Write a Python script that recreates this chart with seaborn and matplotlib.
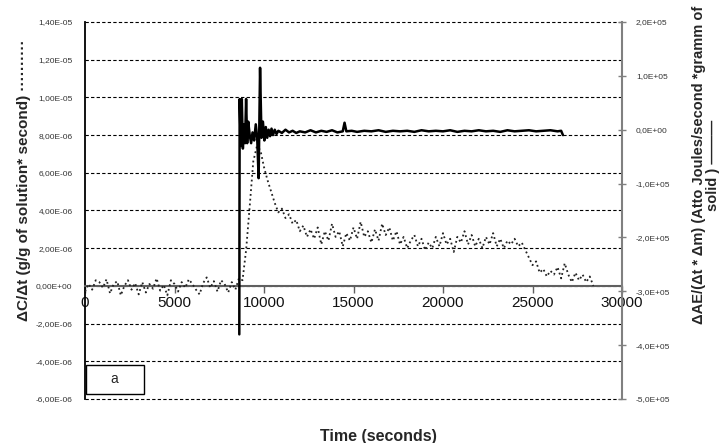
import numpy as np
import pandas as pd
import matplotlib
matplotlib.use("Agg")
import matplotlib.pyplot as plt
from matplotlib.patches import Rectangle
import seaborn as sns

# ---------------- data ----------------
# dotted series: dC/dt (units of 1e-6 g/g*s), every 200 s
conc_time = [
    0, 200, 400, 600, 800, 1000, 1200, 1400, 1600, 1800,
    2000, 2200, 2400, 2600, 2800, 3000, 3200, 3400, 3600, 3800,
    4000, 4200, 4400, 4600, 4800, 5000, 5200, 5400, 5600, 5800,
    6000, 6200, 6400, 6600, 6800, 7000, 7200, 7400, 7600, 7800,
    8000, 8200, 8400, 8600, 8800, 9000, 9200, 9400, 9600, 9800,
    10000, 10200, 10400, 10600, 10800, 11000, 11200, 11400, 11600, 11800,
    12000, 12200, 12400, 12600, 12800, 13000, 13200, 13400, 13600, 13800,
    14000, 14200, 14400, 14600, 14800, 15000, 15200, 15400, 15600, 15800,
    16000, 16200, 16400, 16600, 16800, 17000, 17200, 17400, 17600, 17800,
    18000, 18200, 18400, 18600, 18800, 19000, 19200, 19400, 19600, 19800,
    20000, 20200, 20400, 20600, 20800, 21000, 21200, 21400, 21600, 21800,
    22000, 22200, 22400, 22600, 22800, 23000, 23200, 23400, 23600, 23800,
    24000, 24200, 24400, 24600, 24800, 25000, 25200, 25400, 25600, 25800,
    26000, 26200, 26400, 26600, 26800, 27000, 27200, 27400, 27600, 27800,
    28000, 28200, 28400,
]
conc_rate_e6 = [
    -0.3, 0.1, -0.2, 0.3, 0.2, -0.1, 0.35, -0.4, 0.1, 0.25,
    -0.5, 0.0, 0.3, -0.2, 0.15, -0.45, 0.2, -0.35, 0.1, -0.15,
    0.4, -0.25, 0.05, -0.5, 0.3, 0.1, -0.3, 0.2, -0.1, 0.35,
    0.1, -0.2, -0.45, 0.15, 0.45, -0.1, 0.25, -0.3, 0.3, 0.1,
    -0.35, 0.2, -0.2, 0.4, 0.3, 1.9, 4.2, 6.6, 7.4, 7.2,
    6.3, 5.6, 5.0, 4.4, 3.9, 4.1, 3.6, 3.8, 3.3, 3.5,
    2.9, 3.2, 2.6, 3.0, 2.5, 3.1, 2.2, 2.9, 2.4, 3.3,
    2.6, 2.9, 2.1, 2.8, 2.4, 3.1, 2.5, 3.4, 2.6, 2.9,
    2.3, 3.0, 2.4, 3.3, 2.7, 3.1, 2.4, 2.9, 2.2, 2.6,
    2.0, 2.4, 2.7, 2.1, 2.5, 1.9, 2.3, 2.0, 2.6, 2.1,
    2.8, 2.2, 2.5, 1.8, 2.6, 2.3, 2.9, 2.2, 2.7, 2.1,
    2.5, 2.0, 2.6, 2.2, 2.8, 2.1, 2.5, 2.0, 2.4, 2.2,
    2.5, 2.1, 2.3, 1.9, 1.5, 1.1, 1.3, 0.7, 0.9, 0.5,
    0.8, 0.6, 1.0, 0.4, 1.2, 0.6, 0.2, 0.7, 0.3, 0.6,
    0.2, 0.5, 0.0,
]

# solid series: dAE/(dt*dm) (units of 1e5 aJ/s*g)
energy_time = [
    8620, 8640, 8700, 8760, 8820, 8880, 8940, 9000, 9060, 9120,
    9200, 9280, 9360, 9450, 9540, 9620, 9700, 9780, 9860, 9940,
    10020, 10100, 10180, 10260, 10340, 10420, 10500, 10600, 10700, 10800,
    11000, 11200, 11400, 11600, 11800, 12000, 12300, 12600, 12900, 13200,
    13500, 13800, 14100, 14400, 14500, 14600, 14900, 15200, 15600, 16000,
    16400, 16800, 17200, 17600, 18000, 18400, 18800, 19200, 19600, 20000,
    20400, 20800, 21200, 21600, 22000, 22400, 22800, 23200, 23600, 24000,
    24400, 24800, 25200, 25600, 26000, 26400, 26600, 26700,
]
energy_rate_e5 = [
    -3.8, 0.57, -0.3, 0.57, -0.35, 0.1, -0.25, 0.57, -0.25, 0.15,
    -0.1, -0.25, -0.05, -0.2, 0.1, -0.15, -0.9, 1.15, -0.15, 0.15,
    -0.2, 0.05, -0.15, 0.0, -0.12, 0.02, -0.1, 0.0, -0.08, -0.02,
    -0.06, 0.0, -0.05, -0.02, -0.06, -0.03, -0.05, -0.01, -0.05, -0.02,
    -0.04, -0.01, -0.05, -0.03, 0.13, -0.03, -0.02, -0.04, -0.02, -0.03,
    -0.01, -0.04, -0.02, -0.03, -0.02, -0.04, -0.01, -0.03, -0.02, -0.03,
    -0.01, -0.04, -0.02, -0.03, -0.01, -0.03, -0.02, -0.04, -0.01, -0.03,
    -0.02, -0.01, -0.03, -0.02, -0.01, -0.03, -0.02, -0.1,
]

x_ticks = [0, 5000, 10000, 15000, 20000, 25000, 30000]
x_tick_labels = ["0", "5000", "10000", "15000", "20000", "25000", "30000"]
left_ticks = [-6e-6, -4e-6, -2e-6, 0, 2e-6, 4e-6, 6e-6, 8e-6, 1e-5, 1.2e-5, 1.4e-5]
left_tick_labels = ["-6,00E-06", "-4,00E-06", "-2,00E-06", "0,00E+00", "2,00E-06",
                    "4,00E-06", "6,00E-06", "8,00E-06", "1,00E-05", "1,20E-05", "1,40E-05"]
right_ticks = [-5e5, -4e5, -3e5, -2e5, -1e5, 0, 1e5, 2e5]
right_tick_labels = ["-5,0E+05", "-4,0E+05", "-3,0E+05", "-2,0E+05", "-1,0E+05",
                     "0,0E+00", "1,0E+05", "2,0E+05"]

conc_df = pd.DataFrame({"time": conc_time, "rate": np.array(conc_rate_e6) * 1e-6})
energy_df = pd.DataFrame({"time": energy_time, "rate": np.array(energy_rate_e5) * 1e5})

# ---------------- style ----------------
sns.set_style("white")
plt.rcParams["font.family"] = ["Liberation Sans", "DejaVu Sans"]

W, H = 727, 443
fig = plt.figure(figsize=(W / 100, H / 100), dpi=100)
ax = fig.add_axes([85 / W, 1 - 399 / H, (622 - 85) / W, (399 - 22) / H])
ax.patch.set_alpha(0)

sns.lineplot(data=conc_df, x="time", y="rate", ax=ax, color="#222222",
             linewidth=1.3, linestyle=":", sort=False, zorder=3)

ax.set_xlim(0, 30000)
ax.set_ylim(-6e-6, 1.4e-5)
ax.set_xlabel("")
ax.set_ylabel("")
ax.set_xticks(x_ticks)
ax.set_xticklabels(x_tick_labels)
ax.set_yticks(left_ticks)
ax.set_yticklabels(left_tick_labels)

ax.yaxis.grid(True, linestyle=(0, (3, 2)), color="black", linewidth=0.8)
ax.xaxis.grid(False)
for gl in ax.get_ygridlines():
    gl.set_clip_on(False)

for s in ["top", "right"]:
    ax.spines[s].set_visible(False)
ax.spines["bottom"].set_position(("data", 0))
ax.spines["bottom"].set_color("#606060")
ax.spines["bottom"].set_linewidth(1.5)
ax.spines["left"].set_color("black")
ax.spines["left"].set_linewidth(1.3)

ax.tick_params(axis="x", direction="out", length=5, width=1, color="#606060",
               labelsize=11, pad=2, labelcolor="#111111", bottom=True)
ax.tick_params(axis="y", length=0, labelsize=6, pad=9, labelcolor="#333333", left=True)

ax2 = ax.twinx()
ax2.patch.set_alpha(0)
sns.lineplot(data=energy_df, x="time", y="rate", ax=ax2, color="black",
             linewidth=1.8, sort=False, zorder=4)
ax2.set_ylim(-5e5, 2e5)
ax2.set_xlim(0, 30000)
ax2.set_yticks(right_ticks)
ax2.set_yticklabels(right_tick_labels)
ax2.set_ylabel("")
ax2.set_xlabel("")
for s in ["top", "bottom", "left"]:
    ax2.spines[s].set_visible(False)
ax2.spines["right"].set_color("#808080")
ax2.spines["right"].set_linewidth(1.5)
ax2.tick_params(axis="y", direction="inout", length=6, width=1, color="#808080",
                labelsize=6, pad=7, labelcolor="#333333", right=True)
ax2.grid(False)

# axis titles
fig.text(24 / W, 1 - 180 / H, "ΔC/Δt (g/g of solution* second) ··········",
         rotation=90, ha="center", va="center", fontsize=11, fontweight="bold")
fig.text(706 / W, 1 - 165 / H,
         "ΔAE/(Δt * Δm) (Atto Joules/second *gramm of\nsolid ) ———",
         rotation=90, ha="center", va="center", fontsize=10.5, fontweight="bold",
         linespacing=1.0, multialignment="center")
fig.text(378 / W, 1 - 436 / H, "Time (seconds)", ha="center", va="center",
         fontsize=11.5, fontweight="bold")

# panel tag box
fig.patches.append(Rectangle((86 / W, 1 - 394 / H), 58 / W, 29 / H, fill=False,
                             edgecolor="black", linewidth=1, transform=fig.transFigure))
fig.text(114 / W, 1 - 379 / H, "a", ha="center", va="center", fontsize=10)

fig.savefig("out.png", dpi=100)
